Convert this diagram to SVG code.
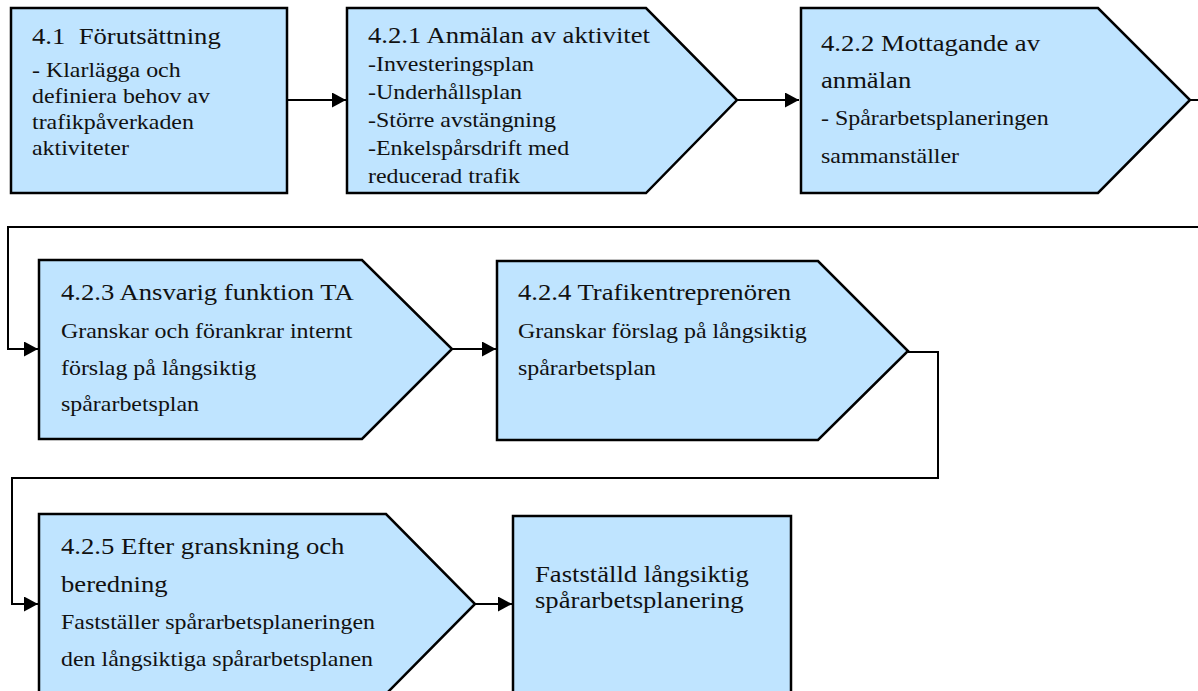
<svg xmlns="http://www.w3.org/2000/svg" width="1198" height="691" viewBox="0 0 1198 691">
<defs>
<style>
.box{fill:#BFE4FF;stroke:#000;stroke-width:2.5;stroke-linejoin:miter}
.con{fill:none;stroke:#000;stroke-width:2}
.t{font-family:"Liberation Serif","Times New Roman",serif;fill:#111}
.h{font-size:22.4px}
.b{font-size:20.1px}
</style>
<marker id="arr" markerUnits="userSpaceOnUse" markerWidth="15" markerHeight="15" refX="14" refY="7.5" orient="auto" viewBox="0 0 15 15">
<path d="M0,0 L14,7.5 L0,15 Z" fill="#000"/>
</marker>
</defs>
<rect width="1198" height="691" fill="#fff"/>
<g id="connectors">
<path class="con" d="M287,100 L346,100" marker-end="url(#arr)"/>
<path class="con" d="M737,100 L799,100" marker-end="url(#arr)"/>
<path class="con" d="M1190,100 L1202,100 L1202,227 L8,227 L8,349 L38,349" marker-end="url(#arr)"/>
<path class="con" d="M452,349 L496,349" marker-end="url(#arr)"/>
<path class="con" d="M908,352 L938,352 L938,478 L12,478 L12,604 L38,604" marker-end="url(#arr)"/>
<path class="con" d="M475,604 L512,604" marker-end="url(#arr)"/>
</g>
<g id="n41">
<rect class="box" x="11" y="8" width="276" height="185"/>
<text class="t h" transform="translate(32,44) scale(1.19,1)" xml:space="preserve">4.1  Förutsättning</text>
<text class="t b" transform="translate(32,0) scale(1.19,1)"><tspan x="0" y="77">- Klarlägga och</tspan><tspan x="0" y="103">definiera behov av</tspan><tspan x="0" y="129">trafikpåverkaden</tspan><tspan x="0" y="155">aktiviteter</tspan></text>
</g>
<g id="n421">
<path class="box" d="M347,8 L646,8 L737,100 L646,193 L347,193 Z"/>
<text class="t h" transform="translate(368,43) scale(1.19,1)">4.2.1 Anmälan av aktivitet</text>
<text class="t b" transform="translate(368,0) scale(1.19,1)"><tspan x="0" y="71">-Investeringsplan</tspan><tspan x="0" y="99">-Underhållsplan</tspan><tspan x="0" y="127">-Större avstängning</tspan><tspan x="0" y="155">-Enkelspårsdrift med</tspan><tspan x="0" y="183">reducerad trafik</tspan></text>
</g>
<g id="n422">
<path class="box" d="M801,8 L1098,8 L1190,100 L1098,193 L801,193 Z"/>
<text class="t h" transform="translate(821,0) scale(1.19,1)"><tspan x="0" y="51">4.2.2 Mottagande av</tspan><tspan x="0" y="88">anmälan</tspan></text>
<text class="t b" transform="translate(821,0) scale(1.19,1)"><tspan x="0" y="125">- Spårarbetsplaneringen</tspan><tspan x="0" y="163">sammanställer</tspan></text>
</g>
<g id="n423">
<path class="box" d="M39,260 L362,260 L452,349 L362,439 L39,439 Z"/>
<text class="t h" transform="translate(61,300) scale(1.19,1)">4.2.3 Ansvarig funktion TA</text>
<text class="t b" transform="translate(61,0) scale(1.19,1)"><tspan x="0" y="338">Granskar och förankrar internt</tspan><tspan x="0" y="375">förslag på långsiktig</tspan><tspan x="0" y="411">spårarbetsplan</tspan></text>
</g>
<g id="n424">
<path class="box" d="M497,261 L818,261 L908,351 L818,440 L497,440 Z"/>
<text class="t h" transform="translate(518,300) scale(1.19,1)">4.2.4 Trafikentreprenören</text>
<text class="t b" transform="translate(518,0) scale(1.19,1)"><tspan x="0" y="338">Granskar förslag på långsiktig</tspan><tspan x="0" y="375">spårarbetsplan</tspan></text>
</g>
<g id="n425">
<path class="box" d="M39,514 L386,514 L475,604 L386,694 L39,694 Z"/>
<text class="t h" transform="translate(61,0) scale(1.19,1)"><tspan x="0" y="554">4.2.5 Efter granskning och</tspan><tspan x="0" y="592">beredning</tspan></text>
<text class="t b" transform="translate(61,0) scale(1.19,1)"><tspan x="0" y="629">Fastställer spårarbetsplaneringen</tspan><tspan x="0" y="666">den långsiktiga spårarbetsplanen</tspan></text>
</g>
<g id="nfinal">
<rect class="box" x="513" y="516" width="278" height="180"/>
<text class="t h" transform="translate(535,0) scale(1.19,1)"><tspan x="0" y="582">Fastställd långsiktig</tspan><tspan x="0" y="608">spårarbetsplanering</tspan></text>
</g>
</svg>
